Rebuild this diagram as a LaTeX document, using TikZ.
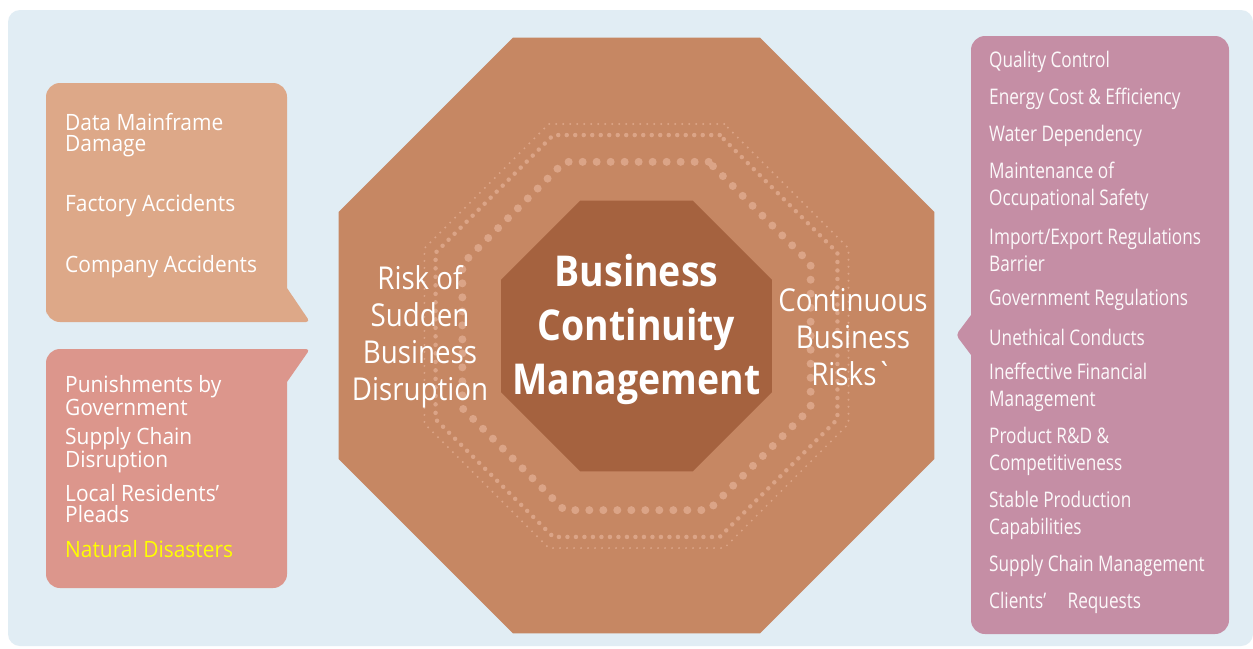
\documentclass[tikz,border=0pt]{standalone}
\usepackage{fontspec}
\setmainfont[FakeStretch=0.88]{Open Sans}
\newfontfamily\narrowfont[FakeStretch=0.8]{Open Sans}
\newfontfamily\boxfont[FakeStretch=0.93]{Open Sans}
\usepackage{tikz}
\usetikzlibrary{shapes.geometric,positioning}

\definecolor{bgblue}{HTML}{E1EDF4}
\definecolor{octouter}{HTML}{C68763}
\definecolor{octinner}{HTML}{A5623F}
\definecolor{dotcol}{HTML}{DBA487}
\definecolor{boxsudden}{HTML}{DDA888}
\definecolor{boxgov}{HTML}{DC968C}
\definecolor{boxrisk}{HTML}{C58EA5}
\definecolor{natyellow}{HTML}{FFFF00}

\tikzset{
  octa/.style={regular polygon, regular polygon sides=8, inner sep=0pt, outer sep=0pt},
  dotring/.style={octa, draw=dotcol, line cap=round},
  leftitem/.style={anchor=west, inner sep=0pt, text=white, align=left, font=\boxfont\fontsize{22.5}{21}\selectfont},
  rightitem/.style={anchor=west, inner sep=0pt, text=white!95!boxrisk, align=left, font=\narrowfont\fontsize{21.5}{27}\selectfont},
  sidelabel/.style={inner sep=0pt, text=white, align=center, font=\fontsize{31.5}{37}\selectfont}
}

\begin{document}
\begin{tikzpicture}[x=1pt, y=-1pt]
\useasboundingbox (0,0) rectangle (1253,648);

% Background panel
\fill[white] (0,0) rectangle (1253,648);
\fill[bgblue, rounded corners=12pt] (8,10) rectangle (1253,646);

% Octagons
\node[octa, fill=octouter, minimum size=645pt] (outer) at (636.5,335.5) {};
\node[dotring, line width=2.2pt, dash pattern=on 0pt off 7pt, minimum size=459pt] (ringa) at (636.5,336) {};
\node[dotring, line width=4.5pt, dash pattern=on 0pt off 8.5pt, minimum size=435pt] (ringb) at (636.5,336) {};
\node[dotring, line width=8pt, dash pattern=on 0pt off 14pt, minimum size=377pt] (ringc) at (636.5,336) {};
\node[octa, fill=octinner, minimum size=293.3pt] (inner) at (636.5,336) {};

% Centre title
\node[inner sep=0pt, text=white, align=center, font=\bfseries\fontsize{42.5}{54}\selectfont] (bcm) at (636.5,329) {Business\\Continuity\\Management};

% Side labels
\node[sidelabel] (sudden) at (420,337) {Risk of\\Sudden\\Business\\Disruption};
\node[sidelabel] (continuous) at (853,337) {Continuous\\Business\\Risks\textasciigrave};

% Callout boxes
\fill[boxsudden] (46,300) [rounded corners=14pt] -- (46,83) -- (287,83) [sharp corners] -- (287,288)
  [rounded corners=4pt] -- (310,322) [rounded corners=14pt] -- (46,322) -- cycle;
\fill[boxgov] (46,400) [rounded corners=14pt] -- (46,349) [rounded corners=4pt] -- (310,349) [sharp corners]
  -- (287,382) [rounded corners=14pt] -- (287,588) -- (46,588) -- cycle;
\fill[boxrisk] (1100,36) [rounded corners=14pt] -- (1229,36) -- (1229,634) -- (971,634) [sharp corners]
  -- (971,355) [rounded corners=4pt] -- (956,335) [sharp corners] -- (971,315) [rounded corners=14pt]
  -- (971,36) -- cycle;

% Sudden disruption items
\node[leftitem] (mainframe) at (65,135) {Data Mainframe\\Damage};
\node[leftitem] (factory) at (65,206) {Factory Accidents};
\node[leftitem] (company) at (65,267) {Company Accidents};
\node[leftitem] (punish) at (65,395.5) {Punishments by\\Government};
\node[leftitem] (supply) at (65,450) {Supply Chain\\Disruption};
\node[leftitem] (residents) at (65,504) {Local Residents’\\Pleads};
\node[leftitem, text=natyellow] (natural) at (65,549) {Natural Disasters};

% Continuous risk items
\node[rightitem] (quality) at (989,62) {Quality Control};
\node[rightitem] (energy) at (989,99) {Energy Cost \& Efficiency};
\node[rightitem] (water) at (989,136) {Water Dependency};
\node[rightitem] (safety) at (989,186.5) {Maintenance of\\Occupational Safety};
\node[rightitem] (import) at (989,250) {Import/Export Regulations\\Barrier};
\node[rightitem] (govreg) at (989,300) {Government Regulations};
\node[rightitem] (unethical) at (989,337) {Unethical Conducts};
\node[rightitem] (finance) at (989,387.5) {Ineffective Financial\\Management};
\node[rightitem] (product) at (989,451.5) {Product R\&D \&\\Competitiveness};
\node[rightitem] (stable) at (989,515.5) {Stable Production\\Capabilities};
\node[rightitem] (scm) at (989,566) {Supply Chain Management};
\node[rightitem] (clients) at (989,603) {Clients’\quad Requests};

\end{tikzpicture}
\end{document}
